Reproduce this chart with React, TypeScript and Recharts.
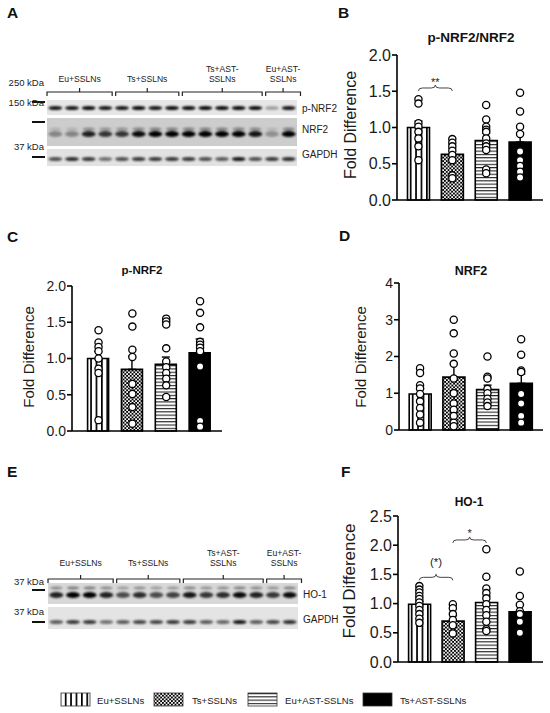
import React from "react";
import { ComposedChart, Bar, Cell, ErrorBar, Scatter, XAxis, YAxis } from "recharts";

const FONT = "'Liberation Sans', Arial, Helvetica, sans-serif";

const GROUPS = ["Eu+SSLNs", "Ts+SSLNs", "Eu+AST-SSLNs", "Ts+AST-SSLNs"];
const GROUP_FILLS = ["url(#vStripe)", "url(#checker)", "url(#hStripe)", "#000"];

// B: p-NRF2/NRF2
const B_MEAN = [1.0, 0.63, 0.82, 0.8];
const B_SEM = [0.09, 0.08, 0.1, 0.13];
const B_POINTS = [
  [1.39, 1.33, 1.06, 1.01, 0.94, 0.85, 0.74, 0.55],
  [0.84, 0.79, 0.74, 0.68, 0.62, 0.55, 0.34, 0.3],
  [1.31, 1.11, 1.01, 0.97, 0.94, 0.85, 0.78, 0.74, 0.69, 0.42, 0.37],
  [1.48, 1.22, 1.01, 0.91, 0.67, 0.55, 0.47, 0.39, 0.31],
];
const B_TICKS = [0, 0.5, 1, 1.5, 2];

// C: p-NRF2
const C_MEAN = [1.0, 0.85, 0.92, 1.08];
const C_SEM = [0.1, 0.18, 0.1, 0.19];
const C_POINTS = [
  [1.39, 1.22, 1.16, 1.1, 1.0, 0.86, 0.8, 0.15],
  [1.62, 1.44, 1.12, 1.02, 0.65, 0.51, 0.33, 0.1],
  [1.55, 1.51, 1.47, 1.14, 0.96, 0.88, 0.8, 0.72, 0.63, 0.47],
  [1.79, 1.63, 1.43, 1.23, 1.19, 1.15, 1.1, 0.89, 0.14, 0.06],
];
const C_TICKS = [0, 0.5, 1, 1.5, 2];

// D: NRF2
const D_MEAN = [0.98, 1.44, 1.1, 1.27];
const D_SEM = [0.15, 0.36, 0.12, 0.25];
const D_POINTS = [
  [1.68, 1.55, 1.22, 1.13, 0.98, 0.78, 0.6, 0.42, 0.2],
  [3.0, 2.63, 2.08, 1.8, 1.4, 1.0, 0.72, 0.55, 0.38, 0.2, 0.1],
  [2.0, 1.45, 1.4, 1.12, 1.0, 0.85, 0.75, 0.65],
  [2.47, 2.05, 1.62, 1.58, 0.98, 0.72, 0.38, 0.2],
];
const D_TICKS = [0, 1, 2, 3, 4];

// F: HO-1
const F_MEAN = [0.99, 0.7, 1.02, 0.86];
const F_SEM = [0.05, 0.09, 0.11, 0.12];
const F_POINTS = [
  [1.3, 1.24, 1.19, 1.13, 1.08, 1.02, 0.96, 0.89, 0.82, 0.74, 0.67],
  [0.99, 0.92, 0.82, 0.72, 0.63, 0.49],
  [1.93, 1.46, 1.26, 1.18, 1.09, 0.99, 0.89, 0.8, 0.69, 0.56, 0.53],
  [1.55, 1.13, 0.98, 0.87, 0.82, 0.69, 0.5],
];
const F_TICKS = [0, 0.5, 1, 1.5, 2, 2.5];

// western blot lanes (band intensity 0..1)
const BLOT_GROUPS = [["Eu+SSLNs"], ["Ts+SSLNs"], ["Ts+AST-", "SSLNs"], ["Eu+AST-", "SSLNs"]];
const BLOT_LANES = [4, 4, 5, 2];
const A_PNRF2 = [0.9, 0.9, 0.95, 0.9, 0.9, 0.95, 0.9, 0.95, 0.95, 0.95, 0.95, 0.95, 0.95, 0.3, 0.9];
const A_NRF2 = [0.35, 0.35, 0.85, 0.75, 0.75, 0.95, 1, 1, 1, 1, 1, 1, 0.9, 0.3, 1];
const A_GAPDH = [0.65, 0.8, 0.75, 0.5, 0.65, 0.75, 0.75, 0.75, 0.75, 0.65, 0.6, 0.9, 0.65, 0.75, 0.8];
const E_HO1 = [0.85, 1, 1, 0.85, 0.65, 0.8, 0.65, 0.7, 0.9, 0.75, 0.8, 0.95, 0.85, 0.75, 0.95];
const E_GAPDH = [0.6, 0.75, 0.75, 0.5, 0.6, 0.7, 0.7, 0.75, 0.75, 0.6, 0.55, 0.9, 0.6, 0.7, 0.8];

// layout
const LEGEND_POS = [[61, 97], [154, 192], [248, 285], [363, 400]];

type Panel = {
  means: number[]; sems: number[]; points: number[][];
  max: number; ticks: number[]; dec: number;
  x: number; x2: number; top: number; bottom: number;
  padL: number; padR: number; barSize: number; tickFont: number;
};

const PANEL_B: Panel = { means: B_MEAN, sems: B_SEM, points: B_POINTS, max: 2, ticks: B_TICKS, dec: 1, x: 397, x2: 543, top: 55, bottom: 200, padL: 4.5, padR: 6, barSize: 22, tickFont: 16 };
const PANEL_C: Panel = { means: C_MEAN, sems: C_SEM, points: C_POINTS, max: 2, ticks: C_TICKS, dec: 1, x: 72, x2: 222, top: 286, bottom: 431, padL: 9.6, padR: 5, barSize: 21, tickFont: 14 };
const PANEL_D: Panel = { means: D_MEAN, sems: D_SEM, points: D_POINTS, max: 4, ticks: D_TICKS, dec: 0, x: 399, x2: 543, top: 283, bottom: 430, padL: 4.2, padR: 5, barSize: 22, tickFont: 14 };
const PANEL_F: Panel = { means: F_MEAN, sems: F_SEM, points: F_POINTS, max: 2.5, ticks: F_TICKS, dec: 1, x: 398, x2: 543, top: 516, bottom: 662, padL: 4.6, padR: 6.4, barSize: 22, tickFont: 16 };

const barX = (p: Panel, i: number) => {
  const band = (p.x2 - p.x - p.padL - p.padR) / GROUPS.length;
  return p.x + p.padL + band * (i + 0.5);
};
const valY = (p: Panel, v: number) => p.bottom - (v / p.max) * (p.bottom - p.top);

const Dot = (props: any) => (
  <circle cx={props.cx} cy={props.cy} r={3.6} fill="#fff" stroke="#000" strokeWidth={1.3} />
);

function BarPanel({ p }: { p: Panel }) {
  const yw = 52;
  const mt = 10;
  const mr = 4;
  const xh = 14;
  const rows = GROUPS.map((g, i) => ({ group: g, mean: p.means[i], sem: [0, p.sems[i]] }));
  const dots = GROUPS.flatMap((g, i) => p.points[i].map((v) => ({ group: g, value: v })));
  return (
    <div style={{ position: "absolute", left: p.x - yw, top: p.top - mt }}>
      <ComposedChart
        width={yw + p.x2 - p.x + mr}
        height={mt + p.bottom - p.top + xh}
        data={rows}
        margin={{ top: mt, right: mr, bottom: 0, left: 0 }}
      >
        <XAxis
          dataKey="group"
          type="category"
          allowDuplicatedCategory={false}
          height={xh}
          tick={false}
          tickLine={false}
          axisLine={{ stroke: "#000", strokeWidth: 1.6 }}
          padding={{ left: p.padL, right: p.padR }}
        />
        <YAxis
          type="number"
          domain={[0, p.max]}
          ticks={p.ticks}
          interval={0}
          width={yw}
          tickSize={5}
          tickMargin={1}
          tickFormatter={(v: number) => v.toFixed(p.dec)}
          tick={{ fill: "#1a1a1a", fontSize: p.tickFont, fontFamily: FONT }}
          axisLine={{ stroke: "#000", strokeWidth: 1.6 }}
          tickLine={{ stroke: "#000", strokeWidth: 1.6 }}
        />
        <Bar dataKey="mean" barSize={p.barSize} stroke="#000" strokeWidth={1.6} isAnimationActive={false}>
          {rows.map((r, i) => (
            <Cell key={r.group} fill={GROUP_FILLS[i]} />
          ))}
          <ErrorBar dataKey="sem" direction="y" width={4} stroke="#000" strokeWidth={1.4} />
        </Bar>
        <Scatter data={dots} dataKey="value" isAnimationActive={false} shape={Dot} />
      </ComposedChart>
    </div>
  );
}

// curly significance bracket between two bars
function Brace({ p, a, b, v, label, labelV, size }: any) {
  const x1 = barX(p, a);
  const x2 = barX(p, b);
  const xm = (x1 + x2) / 2;
  const y = valY(p, v);
  const d = `M${x1},${y + 3} Q${x1},${y} ${x1 + 4},${y} L${xm - 4},${y} Q${xm},${y} ${xm},${y - 3} Q${xm},${y} ${xm + 4},${y} L${x2 - 4},${y} Q${x2},${y} ${x2},${y + 3}`;
  return (
    <g>
      <path d={d} fill="none" stroke="#444" strokeWidth={1} />
      <text x={xm} y={valY(p, labelV)} textAnchor="middle" fontSize={size} fontFamily={FONT} fill="#222">
        {label}
      </text>
    </g>
  );
}

function Strip({ x, y, w, h, bg, vals, bandY, thick, upper }: any) {
  const lw = w / vals.length;
  return (
    <g>
      <rect x={x} y={y} width={w} height={h} fill={bg} />
      {vals.map((v: number, i: number) => (
        <g key={i} filter="url(#blotBlur)">
          {upper ? (
            <ellipse cx={x + lw * (i + 0.5)} cy={bandY - upper.dy} rx={lw * 0.38} ry={upper.t / 2} fill="#000" opacity={v * upper.k} />
          ) : null}
          <ellipse cx={x + lw * (i + 0.5)} cy={bandY} rx={lw * 0.42} ry={thick / 2} fill="#000" opacity={v} />
        </g>
      ))}
    </g>
  );
}

function BlotHeader({ x0, w, labelY, bracketY }: any) {
  const total = BLOT_LANES.reduce((s, n) => s + n, 0);
  const lw = w / total;
  let start = 0;
  return (
    <g>
      {BLOT_GROUPS.map((lines, gi) => {
        const a = x0 + start * lw + (gi === 0 ? 0 : 2);
        const b = x0 + (start + BLOT_LANES[gi]) * lw - 1.5 + (gi === BLOT_GROUPS.length - 1 ? 5 : 0);
        start += BLOT_LANES[gi];
        const m = (a + b) / 2;
        return (
          <g key={gi}>
            <path d={`M${a},${bracketY + 4} L${a},${bracketY} L${b},${bracketY} L${b},${bracketY + 4} M${m},${bracketY} L${m},${bracketY - 4}`} fill="none" stroke="#222" strokeWidth={1.2} />
            {lines.map((t, li) => (
              <text key={li} x={m} y={labelY - (lines.length - 1 - li) * 10} textAnchor="middle" fontSize={8.6} fontFamily={FONT} fill="#222">
                {t}
              </text>
            ))}
          </g>
        );
      })}
    </g>
  );
}

function Marker({ y, label, labelY }: any) {
  return (
    <g>
      <text x={44} y={labelY} textAnchor="end" fontSize={9.5} fontFamily={FONT} fill="#222">{label}</text>
      <line x1={32} x2={45} y1={y} y2={y} stroke="#111" strokeWidth={2} />
    </g>
  );
}

function YLabel({ x, y, size }: any) {
  return (
    <text transform={`translate(${x},${y}) rotate(-90)`} textAnchor="middle" dominantBaseline="central" fontSize={size} fontFamily={FONT} fill="#1a1a1a">
      Fold Difference
    </text>
  );
}

function Title({ x, y, size, children }: any) {
  return (
    <text x={x} y={y} textAnchor="middle" fontSize={size} fontWeight="bold" fontFamily={FONT} fill="#111">
      {children}
    </text>
  );
}

function Letter({ x, y, children }: any) {
  return (
    <text x={x} y={y} fontSize={15.5} fontWeight="bold" fontFamily={FONT} fill="#111">
      {children}
    </text>
  );
}

export default function App() {
  return (
    <div style={{ position: "absolute", left: 0, top: 0, width: 550, height: 713, background: "#fff", overflow: "hidden" }}>
      <svg width={0} height={0} style={{ position: "absolute" }}>
        <defs>
          <pattern id="vStripe" patternUnits="userSpaceOnUse" width={5.4} height={10}>
            <rect width={5.4} height={10} fill="#fff" />
            <rect x={0} width={1.7} height={10} fill="#000" />
          </pattern>
          <pattern id="checker" patternUnits="userSpaceOnUse" width={3.6} height={3.6}>
            <rect width={3.6} height={3.6} fill="#fff" />
            <rect x={0} y={0} width={1.9} height={1.9} fill="#000" />
            <rect x={1.8} y={1.8} width={1.9} height={1.9} fill="#000" />
          </pattern>
          <pattern id="hStripe" patternUnits="userSpaceOnUse" width={10} height={3.3}>
            <rect width={10} height={3.3} fill="#fff" />
            <rect y={0} width={10} height={1.1} fill="#222" />
          </pattern>
          <filter id="blotBlur" x="-50%" y="-150%" width="200%" height="400%">
            <feGaussianBlur stdDeviation={0.8} />
          </filter>
        </defs>
      </svg>

      <BarPanel p={PANEL_B} />
      <BarPanel p={PANEL_C} />
      <BarPanel p={PANEL_D} />
      <BarPanel p={PANEL_F} />

      <svg width={550} height={713} style={{ position: "absolute", left: 0, top: 0, pointerEvents: "none" }}>
        <Letter x={7} y={18}>A</Letter>
        <Letter x={338} y={18}>B</Letter>
        <Letter x={7} y={242}>C</Letter>
        <Letter x={339} y={241}>D</Letter>
        <Letter x={7} y={477}>E</Letter>
        <Letter x={341} y={477}>F</Letter>

        <Title x={471} y={42} size={13.5}>p-NRF2/NRF2</Title>
        <Title x={142} y={274} size={11.5}>p-NRF2</Title>
        <Title x={471} y={275} size={12.5}>NRF2</Title>
        <Title x={469} y={506} size={12}>HO-1</Title>

        <YLabel x={350} y={125} size={16} />
        <YLabel x={28} y={357} size={15} />
        <YLabel x={360} y={357} size={15} />
        <YLabel x={349} y={581} size={17} />

        <Brace p={PANEL_B} a={0} b={1} v={1.545} label="**" labelV={1.57} size={11} />
        <Brace p={PANEL_F} a={0} b={1} v={1.45} label="(*)" labelV={1.64} size={11.5} />
        <Brace p={PANEL_F} a={1} b={2} v={2.09} label="*" labelV={2.14} size={11} />

        {/* A: p-NRF2 / NRF2 / GAPDH blot */}
        <BlotHeader x0={47} w={250} labelY={82} bracketY={92} />
        <Marker y={102} label="250 kDa" labelY={86} />
        <Marker y={122} label="150 kDa" labelY={106} />
        <Marker y={157} label="37 kDa" labelY={150} />
        <Strip x={47} y={100} w={250} h={15} bg="#e6e6e6" vals={A_PNRF2} bandY={108} thick={4} />
        <Strip x={47} y={118} w={250} h={28} bg="#cdcdcd" vals={A_NRF2} bandY={134} thick={6} upper={{ dy: 5, t: 3, k: 0.4 }} />
        <Strip x={47} y={149} w={250} h={17} bg="#e2e2e2" vals={A_GAPDH} bandY={159} thick={4} />
        <text x={302} y={112} fontSize={10} fontFamily={FONT} fill="#222">p-NRF2</text>
        <text x={302} y={133} fontSize={10} fontFamily={FONT} fill="#222">NRF2</text>
        <text x={302} y={158} fontSize={10} fontFamily={FONT} fill="#222">GAPDH</text>

        {/* E: HO-1 / GAPDH blot */}
        <BlotHeader x0={48} w={250} labelY={566} bracketY={579} />
        <Marker y={590} label="37 kDa" labelY={585} />
        <Marker y={622} label="37 kDa" labelY={615} />
        <Strip x={48} y={583} w={250} h={21} bg="#d8d8d8" vals={E_HO1} bandY={595} thick={6} upper={{ dy: 7, t: 3, k: 0.45 }} />
        <Strip x={48} y={607} w={250} h={22} bg="#e4e4e4" vals={E_GAPDH} bandY={622} thick={4} />
        <text x={303} y={598} fontSize={10} fontFamily={FONT} fill="#222">HO-1</text>
        <text x={303} y={623} fontSize={10} fontFamily={FONT} fill="#222">GAPDH</text>

        {/* legend */}
        {GROUPS.map((g, i) => (
          <g key={g}>
            <rect x={LEGEND_POS[i][0]} y={693} width={29} height={13} fill={GROUP_FILLS[i]} stroke="#333" strokeWidth={0.8} />
            <text x={LEGEND_POS[i][1]} y={703.5} fontSize={9.6} fontFamily={FONT} fill="#222">{g}</text>
          </g>
        ))}
      </svg>
    </div>
  );
}
